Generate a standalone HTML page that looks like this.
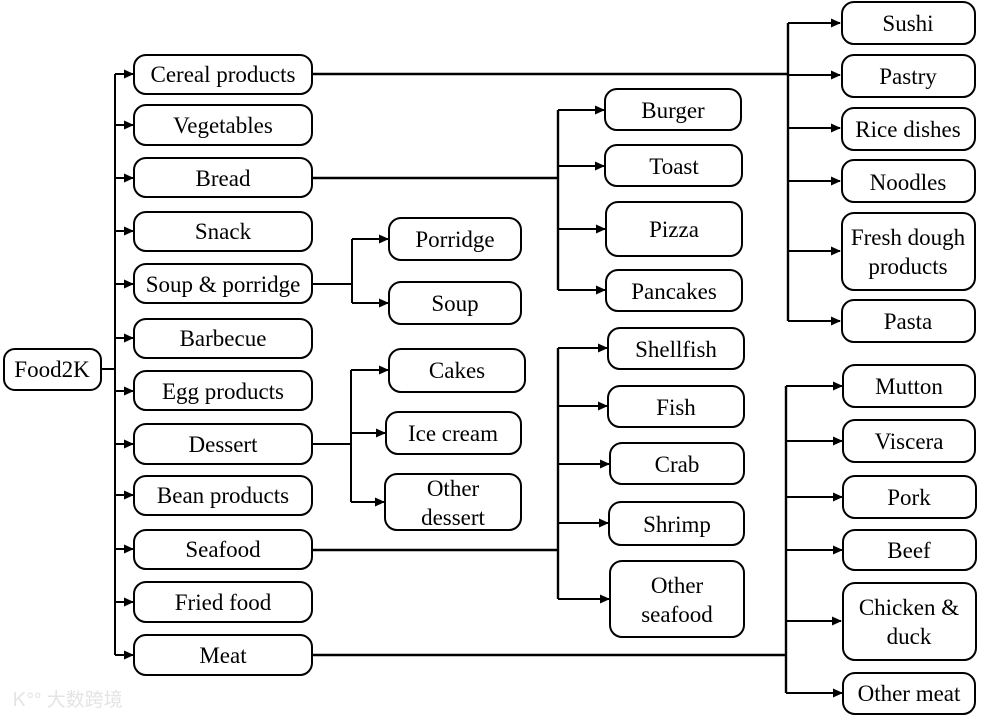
<!DOCTYPE html>
<html><head><meta charset="utf-8"><style>
html,body{margin:0;padding:0;background:#fff;}
svg{display:block;}
text{font-family:"Liberation Serif",serif;font-size:23px;fill:#000;text-anchor:middle;}
rect{fill:#fff;stroke:#000;stroke-width:2;}
.l{stroke:#000;stroke-width:2;fill:none;}
.a{fill:#000;}
</style></head><body>
<svg width="987" height="719" viewBox="0 0 987 719" xmlns="http://www.w3.org/2000/svg">
<defs>
<marker id="ar" markerWidth="10" markerHeight="10" refX="9" refY="5" orient="auto" markerUnits="userSpaceOnUse">
<path d="M0,0.5 L10,5 L0,9.5 z" class="a"/>
</marker>
</defs>
<g class="l">
<path d="M101 369 H115"/>
<path d="M115 74 V655"/>
<path d="M115 74 H133" marker-end="url(#ar)"/>
<path d="M115 125 H133" marker-end="url(#ar)"/>
<path d="M115 178 H133" marker-end="url(#ar)"/>
<path d="M115 231 H133" marker-end="url(#ar)"/>
<path d="M115 284 H133" marker-end="url(#ar)"/>
<path d="M115 338 H133" marker-end="url(#ar)"/>
<path d="M115 391 H133" marker-end="url(#ar)"/>
<path d="M115 444 H133" marker-end="url(#ar)"/>
<path d="M115 495 H133" marker-end="url(#ar)"/>
<path d="M115 549 H133" marker-end="url(#ar)"/>
<path d="M115 602 H133" marker-end="url(#ar)"/>
<path d="M115 655 H133" marker-end="url(#ar)"/>
<path d="M312 284 H352 M352 239 V303"/>
<path d="M352 239 H388" marker-end="url(#ar)"/>
<path d="M352 303 H388" marker-end="url(#ar)"/>
<path d="M312 444 H351 M351 370 V502"/>
<path d="M351 370 H388" marker-end="url(#ar)"/>
<path d="M351 433 H385" marker-end="url(#ar)"/>
<path d="M351 502 H384" marker-end="url(#ar)"/>
<path d="M312 178 H558 M558 110 V290" style="stroke-width:2.4"/>
<path d="M558 110 H604" marker-end="url(#ar)"/>
<path d="M558 166 H604" marker-end="url(#ar)"/>
<path d="M558 229 H605" marker-end="url(#ar)"/>
<path d="M558 290 H605" marker-end="url(#ar)"/>
<path d="M312 550 H558 M558 348 V599" style="stroke-width:2.4"/>
<path d="M558 348 H607" marker-end="url(#ar)"/>
<path d="M558 406 H607" marker-end="url(#ar)"/>
<path d="M558 464 H609" marker-end="url(#ar)"/>
<path d="M558 523 H608" marker-end="url(#ar)"/>
<path d="M558 599 H609" marker-end="url(#ar)"/>
<path d="M312 74 H788 M788 23 V321" style="stroke-width:2.4"/>
<path d="M788 23 H840" marker-end="url(#ar)"/>
<path d="M788 75 H840" marker-end="url(#ar)"/>
<path d="M788 128 H840" marker-end="url(#ar)"/>
<path d="M788 181 H840" marker-end="url(#ar)"/>
<path d="M788 251 H840" marker-end="url(#ar)"/>
<path d="M788 321 H840" marker-end="url(#ar)"/>
<path d="M312 655 H786 M786 386 V693" style="stroke-width:2.4"/>
<path d="M786 386 H842" marker-end="url(#ar)"/>
<path d="M786 441 H842" marker-end="url(#ar)"/>
<path d="M786 497 H842" marker-end="url(#ar)"/>
<path d="M786 550 H842" marker-end="url(#ar)"/>
<path d="M786 621 H841" marker-end="url(#ar)"/>
<path d="M786 693 H842" marker-end="url(#ar)"/>
</g>
<rect x="4" y="349" width="97" height="41" rx="11"/><text x="52" y="377">Food2K</text>

<rect x="134" y="55" width="178" height="39" rx="12"/><text x="223" y="82">Cereal products</text>
<rect x="134" y="105" width="178" height="40" rx="12"/><text x="223" y="133">Vegetables</text>
<rect x="134" y="158" width="178" height="39" rx="12"/><text x="223" y="186">Bread</text>
<rect x="134" y="212" width="178" height="39" rx="12"/><text x="223" y="239">Snack</text>
<rect x="134" y="264" width="178" height="39" rx="12"/><text x="223" y="292">Soup &amp; porridge</text>
<rect x="134" y="319" width="178" height="39" rx="12"/><text x="223" y="346">Barbecue</text>
<rect x="134" y="371" width="178" height="39" rx="12"/><text x="223" y="399">Egg products</text>
<rect x="134" y="424" width="178" height="40" rx="12"/><text x="223" y="452">Dessert</text>
<rect x="134" y="476" width="178" height="39" rx="12"/><text x="223" y="503">Bean products</text>
<rect x="134" y="530" width="178" height="39" rx="12"/><text x="223" y="557">Seafood</text>
<rect x="134" y="582" width="178" height="40" rx="12"/><text x="223" y="610">Fried food</text>
<rect x="134" y="635" width="178" height="40" rx="12"/><text x="223" y="663">Meat</text>

<rect x="389" y="218" width="132" height="42" rx="12"/><text x="455" y="247">Porridge</text>
<rect x="389" y="282" width="132" height="42" rx="12"/><text x="455" y="311">Soup</text>
<rect x="389" y="349" width="136" height="43" rx="12"/><text x="457" y="378">Cakes</text>
<rect x="386" y="412" width="135" height="42" rx="12"/><text x="453" y="441">Ice cream</text>
<rect x="385" y="474" width="136" height="56" rx="12"/><text x="453" y="496">Other</text><text x="453" y="525">dessert</text>

<rect x="605" y="89" width="136" height="41" rx="12"/><text x="673" y="118">Burger</text>
<rect x="605" y="145" width="137" height="41" rx="12"/><text x="674" y="174">Toast</text>
<rect x="606" y="202" width="136" height="54" rx="12"/><text x="674" y="237">Pizza</text>
<rect x="606" y="270" width="136" height="41" rx="12"/><text x="674" y="299">Pancakes</text>

<rect x="608" y="328" width="136" height="41" rx="12"/><text x="676" y="357">Shellfish</text>
<rect x="608" y="386" width="136" height="41" rx="12"/><text x="676" y="415">Fish</text>
<rect x="610" y="443" width="134" height="41" rx="12"/><text x="677" y="472">Crab</text>
<rect x="609" y="502" width="135" height="43" rx="12"/><text x="677" y="532">Shrimp</text>
<rect x="610" y="561" width="134" height="76" rx="12"/><text x="677" y="593">Other</text><text x="677" y="622">seafood</text>

<rect x="842" y="2" width="133" height="42" rx="12"/><text x="908" y="31">Sushi</text>
<rect x="842" y="55" width="133" height="42" rx="12"/><text x="908" y="84">Pastry</text>
<rect x="842" y="108" width="133" height="42" rx="12"/><text x="908" y="137">Rice dishes</text>
<rect x="842" y="160" width="133" height="42" rx="12"/><text x="908" y="190">Noodles</text>
<rect x="842" y="213" width="133" height="77" rx="12"/><text x="908" y="245">Fresh dough</text><text x="908" y="274">products</text>
<rect x="842" y="300" width="133" height="42" rx="12"/><text x="908" y="329">Pasta</text>

<rect x="843" y="365" width="132" height="42" rx="12"/><text x="909" y="394">Mutton</text>
<rect x="843" y="420" width="132" height="42" rx="12"/><text x="909" y="449">Viscera</text>
<rect x="843" y="476" width="133" height="42" rx="12"/><text x="909" y="505">Pork</text>
<rect x="843" y="530" width="133" height="40" rx="12"/><text x="909" y="558">Beef</text>
<rect x="843" y="583" width="133" height="77" rx="12"/><text x="909" y="615">Chicken &amp;</text><text x="909" y="644">duck</text>
<rect x="843" y="673" width="132" height="41" rx="12"/><text x="909" y="701">Other meat</text>

<text x="68" y="706" style="font-family:'Liberation Sans','Noto Sans CJK SC',sans-serif;font-size:19px;fill:#e4e4e4;">Ꮶ°° 大数跨境</text>
</svg>
</body></html>
